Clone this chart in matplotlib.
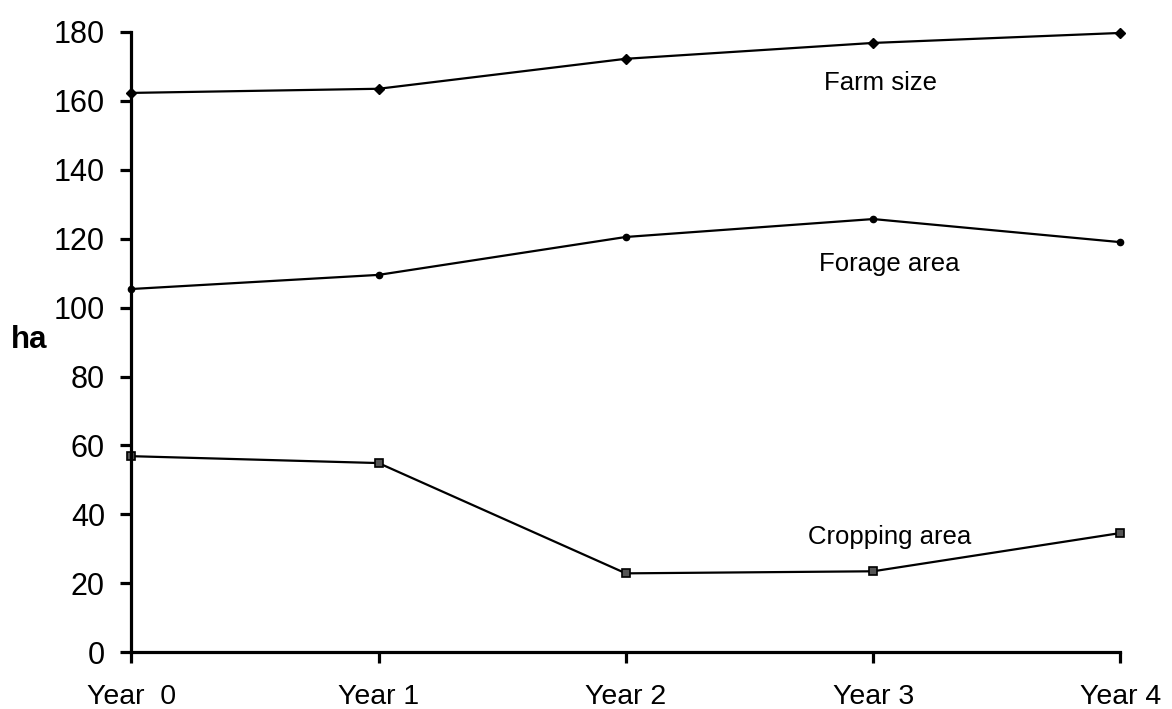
import matplotlib
matplotlib.use("Agg")
import matplotlib.pyplot as plt

plt.rcParams['font.family'] = ['Liberation Sans', 'DejaVu Sans']

years = ["Year  0", "Year 1", "Year 2", "Year 3", "Year 4"]
farm_size = [162.3, 163.5, 172.2, 176.8, 179.7]
forage_area = [105.4, 109.5, 120.5, 125.7, 119.0]
cropping_area = [56.9, 54.9, 22.9, 23.5, 34.6]

fig = plt.figure(figsize=(11.72, 7.09), dpi=100)
ax = fig.add_axes([0.112, 0.080, 0.844, 0.875])
x = list(range(len(years)))

ax.plot(x, farm_size, color='black', lw=1.6, marker='D', ms=5.5, clip_on=False)
ax.plot(x, forage_area, color='black', lw=1.6, marker='o', ms=4.5, clip_on=False)
ax.plot(x, cropping_area, color='black', lw=1.6, marker='s', ms=5.5,
        markerfacecolor='#555555', markeredgecolor='black', markeredgewidth=1.2, clip_on=False)

ax.set_xlim(0, 4)
ax.set_ylim(0, 180)
ax.set_yticks(range(0, 181, 20))
ax.set_xticks(x)
ax.set_xticklabels(years)

for s in ['top', 'right']:
    ax.spines[s].set_visible(False)
for s in ['left', 'bottom']:
    ax.spines[s].set_linewidth(2.3)
ax.tick_params(axis='both', direction='out', length=8, width=2.3)
ax.tick_params(axis='y', pad=11, labelsize=22)
ax.tick_params(axis='x', pad=15, labelsize=20.5)

ax.text(2.80, 165.2, "Farm size", fontsize=18.5, va='center', ha='left')
ax.text(2.78, 112.7, "Forage area", fontsize=18.5, va='center', ha='left')
ax.text(2.735, 33.4, "Cropping area", fontsize=18.5, va='center', ha='left')

fig.text(0.009, 0.52, "ha", fontsize=22.5, fontweight='bold', ha='left', va='center')

fig.savefig("out.png", dpi=100)
